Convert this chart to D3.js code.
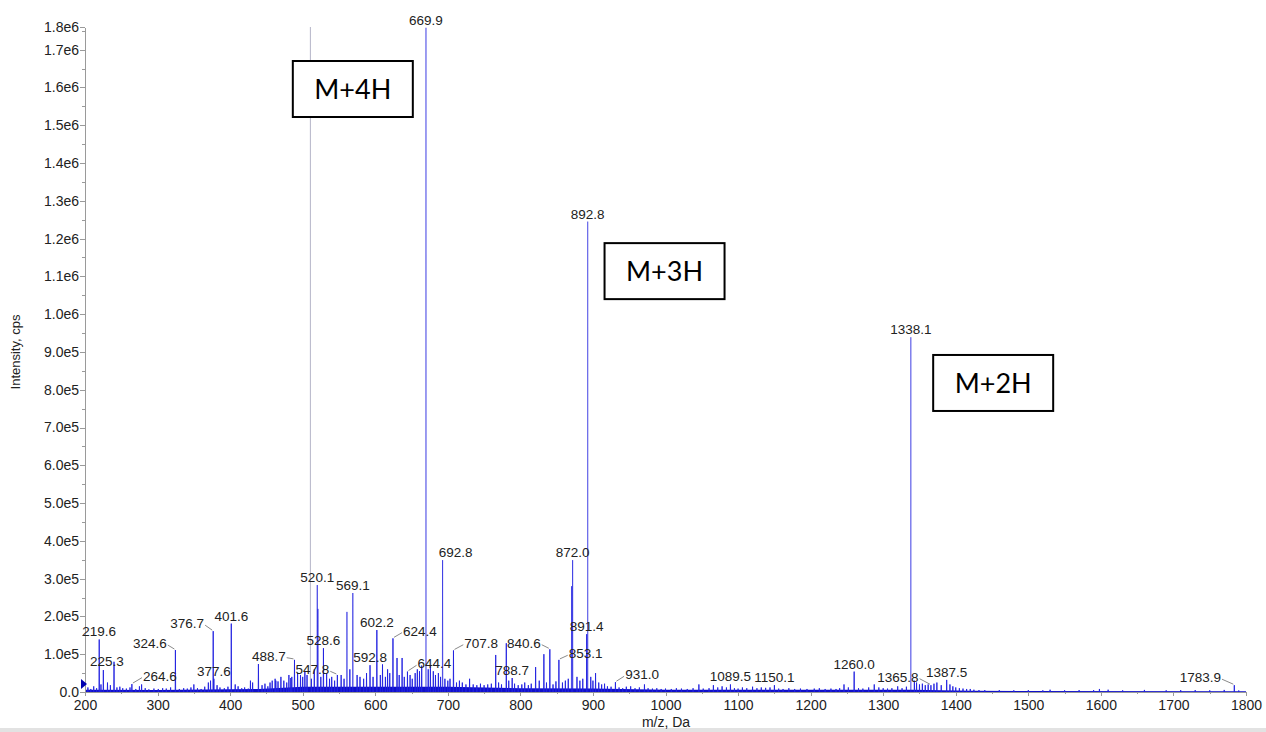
<!DOCTYPE html>
<html lang="en">
<head>
<meta charset="UTF-8">
<title>Spectrum</title>
<style>
  body { margin: 0; background: #fff; }
  svg text { font-family: "Liberation Sans", Arial, sans-serif; fill: #222; }
  .axis path, .axis line { stroke: #9a9a9a; shape-rendering: crispEdges; }
  .axis text { font-size: 14px; }
  .peak { stroke: #2020e0; stroke-width: 1; }
  .plabel { font-size: 13.5px; }
  .leader { stroke: #8a8a8a; stroke-width: 1; fill: none; }
  .box rect { fill: #fff; stroke: #000; stroke-width: 2; }
  .box text { font-family: Lato, "Open Sans", sans-serif; font-size: 27px; fill: #000; }
</style>
</head>
<body>
<svg id="chart" width="1266" height="732"></svg>
<script src="https://cdn.jsdelivr.net/npm/d3@7"></script>
<script>
// labelled / main peaks
const peakMz  = [219.6, 225.3, 240.0, 264.6, 278.0, 324.6, 350.0, 376.7, 377.6, 401.6,
                 431.0, 439.0, 463.0, 483.6, 488.7, 520.1, 521.0, 528.6, 547.8, 561.0,
                 569.1, 592.8, 602.2, 610.0, 624.4, 630.0, 637.0, 644.4, 669.9, 692.8,
                 707.8, 766.0, 780.6, 788.7, 821.0, 832.4, 840.6, 853.1, 870.6, 872.0,
                 891.4, 892.8, 903.6, 931.0, 971.0, 1046.0, 1089.5, 1150.1, 1246.0, 1260.0,
                 1287.7, 1320.0, 1338.1, 1365.8, 1387.5, 1783.9];
const peakInt = [139000, 58000, 80000, 21000, 20000, 111000, 20000, 161000, 35000, 181000,
                 25000, 74000, 30000, 37000, 85000, 283000, 220000, 116000, 45000, 212000,
                 262000, 71000, 164000, 73000, 142000, 90000, 90000, 54000, 1758000, 349000,
                 110000, 98000, 129000, 37000, 66000, 100000, 113000, 85000, 280000, 349000,
                 153000, 1245000, 50000, 26000, 20000, 20000, 20000, 18000, 20000, 54000,
                 20000, 15000, 939000, 18000, 32000, 18000];

// small noise spikes [m/z, cps]
const noisePeaks = [
  [204,12000],[208,8000],[212,15000],[216,10000],[222,20000],[231,25000],[235,18000],[244,12000],
  [248,14000],[252,10000],[257,9000],[262,12000],[270,8000],[275,15000],[283,10000],[288,7000],
  [295,9000],[301,8000],[307,10000],[312,9000],[318,12000],[330,8000],[336,10000],[341,9000],
  [346,12000],[355,10000],[360,8000],[365,14000],[370,25000],[373,30000],[382,18000],[386,12000],
  [392,10000],[397,14000],[407,20000],[411,15000],[416,10000],[420,12000],[425,9000],[428,30000],
  [444,18000],[448,22000],[452,15000],[455,25000],[458,30000],[462,35000],[466,28000],[470,40000],
  [474,30000],[478,25000],[481,45000],[485,40000],[493,50000],[497,45000],[500,40000],[503,55000],
  [506,45000],[512,35000],[516,60000],[525,40000],[533,50000],[537,35000],[540,40000],[544,30000],
  [553,45000],[557,35000],[565,60000],[575,45000],[579,40000],[584,35000],[588,50000],[597,40000],
  [607,45000],[614,40000],[617,60000],[620,50000],[633,45000],[640,40000],[648,45000],[651,35000],
  [655,50000],[658,60000],[661,55000],[664,70000],[673,60000],[676,70000],[680,55000],[683,45000],
  [687,50000],[690,40000],[696,35000],[700,30000],[703,35000],[712,25000],[716,30000],[720,25000],
  [725,20000],[730,35000],[735,20000],[740,18000],[745,22000],[750,18000],[755,20000],[760,22000],
  [770,25000],[774,20000],[784,30000],[792,22000],[797,18000],[802,20000],[806,25000],[811,18000],
  [815,22000],[826,30000],[836,25000],[845,20000],[849,28000],[858,25000],[862,30000],[866,35000],
  [878,40000],[882,30000],[886,35000],[897,40000],[900,30000],[908,25000],[912,20000],[916,22000],
  [920,15000],[925,14000],[936,12000],[941,10000],[946,14000],[952,15000],[958,10000],[964,12000],
  [976,10000],[982,9000],[988,10000],[994,8000],[1000,9000],[1008,8000],[1015,10000],[1022,9000],
  [1030,8000],[1038,10000],[1052,9000],[1060,10000],[1066,18000],[1072,12000],[1078,15000],[1084,12000],
  [1095,10000],[1100,9000],[1106,12000],[1112,10000],[1120,14000],[1126,10000],[1132,12000],[1138,11000],
  [1144,12000],[1156,9000],[1162,8000],[1170,10000],[1178,8000],[1186,9000],[1195,8000],[1205,9000],
  [1212,10000],[1220,8000],[1228,9000],[1235,8000],[1240,10000],[1252,12000],[1266,10000],[1272,9000],
  [1280,12000],[1294,12000],[1300,10000],[1306,9000],[1312,10000],[1326,10000],[1332,14000],[1343,30000],
  [1346,25000],[1350,20000],[1354,22000],[1358,18000],[1362,20000],[1370,22000],[1374,25000],[1380,18000],
  [1392,20000],[1396,15000],[1400,12000],[1405,10000],[1410,9000],[1415,8000],[1420,8000],[1425,6000],
  [1432,5000],[1440,5000],[1460,5000],[1480,4500],[1500,5000],[1520,4500],[1530,6000],
  [1550,4500],[1570,5000],[1590,5000],[1598,8000],[1610,6000],[1630,4500],[1660,5500],
  [1690,4500],[1710,5000],[1730,5000],[1750,4500],[1770,5500],[1790,4000]
];

// baseline level
const baseMz  = [200, 300, 440, 500, 700, 800, 900, 1000, 1340, 1420, 1800];
const baseInt = [6000, 5000, 8000, 14000, 14000, 10000, 9000, 6000, 6000, 3000, 1800];

// peak labels
const labelMz = [219.6, 225.3, 264.6, 324.6, 376.7, 377.6, 401.6, 488.7, 520.1, 528.6,
                 547.8, 569.1, 592.8, 602.2, 624.4, 644.4, 669.9, 692.8, 707.8, 788.7,
                 840.6, 853.1, 872.0, 891.4, 892.8, 931.0, 1089.5, 1150.1, 1260.0, 1338.1,
                 1365.8, 1387.5, 1783.9];
const leaderLabels = [264.6, 324.6, 376.7, 488.7, 547.8, 624.4, 644.4, 707.8, 840.6, 853.1, 931.0, 1365.8, 1783.9];

// charge state boxes
const ionTags = ["M+4H", "M+3H", "M+2H"];
const ionBoxMz = [486.4, 916.0, 1368.9];
const ionBoxInt = [1670000, 1188000, 892000];

const cursorMz = 510.6;

const xTicks = [200, 300, 400, 500, 600, 700, 800, 900, 1000, 1100, 1200, 1300, 1400, 1500, 1600, 1700, 1800];
const yTicks = [0, 1e5, 2e5, 3e5, 4e5, 5e5, 6e5, 7e5, 8e5, 9e5, 1e6, 1.1e6, 1.2e6, 1.3e6, 1.4e6, 1.5e6, 1.6e6, 1.7e6];
const yTop = 1.76e6;

// label text offsets from the peak apex (px)
const labelShift = {
  "225.3": [3.6, -9], "692.8": [13, -8],
  "264.6": [28, -8.4], "324.6": [-25.5, -7], "376.7": [-26, -8], "488.7": [-25.7, -4.2],
  "547.8": [-25, -5.7], "624.4": [27, -7.7], "644.4": [27, -8.3], "707.8": [27.7, -7.7],
  "840.6": [-26, -6.6], "853.1": [26.7, -6.6], "931.0": [26.6, -7.9], "1365.8": [-33, -8.5],
  "1783.9": [-34, -8]
};

const svg = d3.select("#chart");
const x = d3.scaleLinear().domain([200, 1800]).range([85, 1246]);
const y = d3.scaleLinear().domain([0, yTop]).range([692, 27]);

// bottom strip
svg.append("rect").attr("x", 0).attr("y", 728).attr("width", 1266).attr("height", 4).attr("fill", "#e2e2e2");

// cursor line
svg.append("line")
  .attr("x1", x(cursorMz)).attr("x2", x(cursorMz))
  .attr("y1", y(0)).attr("y2", y(yTop))
  .attr("stroke", "#b4b4c8").attr("stroke-width", 1);

// baseline band
const area = d3.area().x(d => x(d[0])).y0(y(0)).y1(d => y(d[1]));
svg.append("path")
  .datum(baseMz.map((m, i) => [m, baseInt[i]]))
  .attr("d", area).attr("fill", "#1010c8");

// sticks
const allPeaks = noisePeaks.concat(peakMz.map((m, i) => [m, peakInt[i]]));
const stick = d3.line().x(d => x(d[0])).y(d => y(d[1]));
svg.append("g").selectAll("path").data(allPeaks).join("path")
  .attr("class", "peak")
  .attr("fill", "none")
  .attr("stroke-opacity", d => d[1] > 500000 ? 0.5 : d[1] > 200000 ? 0.65 : 0.9)
  .attr("d", d => stick([[d[0] - 0.3, 0], [d[0], d[1]], [d[0] + 0.3, 0]]));

// axes
const fmt = v => v === 0 ? "0.0" : d3.format(".1e")(v).replace("+", "");
svg.append("g").attr("class", "axis").attr("transform", "translate(85,0)")
  .call(d3.axisLeft(y).tickValues(yTicks.concat([yTop])).tickFormat(fmt).tickSize(5).tickPadding(1).tickSizeOuter(0));
svg.append("g").attr("class", "axis").attr("transform", "translate(85,0)")
  .call(d3.axisLeft(y).tickValues(d3.range(5e4, yTop, 1e5)).tickFormat("").tickSize(3).tickSizeOuter(0))
  .select(".domain").remove();
svg.append("g").attr("class", "axis").attr("transform", "translate(0,692)")
  .call(d3.axisBottom(x).tickValues(xTicks).tickFormat(d3.format("d")).tickSize(4).tickPadding(4).tickSizeOuter(0));
svg.append("g").attr("class", "axis").attr("transform", "translate(0,692)")
  .call(d3.axisBottom(x).tickValues(d3.range(250, 1800, 100)).tickFormat("").tickSize(2).tickSizeOuter(0))
  .select(".domain").remove();

svg.append("text").attr("x", 666).attr("y", 727).attr("text-anchor", "middle")
  .style("font-size", "14px").text("m/z, Da");
svg.append("text").attr("transform", "translate(20,352) rotate(-90)").attr("text-anchor", "middle")
  .style("font-size", "13px").text("Intensity, cps");

// zero marker
svg.append("path")
  .attr("d", `M${x(200) - 4},${y(0) - 13} L${x(200) + 2},${y(0) - 8} L${x(200) - 4},${y(0) - 3} Z`)
  .attr("fill", "#0000b0");

// peak labels
const labG = svg.append("g");
labelMz.forEach(m => {
  const key = m.toFixed(1);
  const i = peakMz.indexOf(m);
  const px = x(m), py = y(peakInt[i]);
  const sh = labelShift[key] || [0, -8];
  const cx = px + sh[0], cy = py + sh[1];
  const t = labG.append("text").attr("class", "plabel")
    .attr("x", cx).attr("y", cy + 5).attr("text-anchor", "middle").text(key);
  if (leaderLabels.includes(m)) {
    const w = t.node().getComputedTextLength();
    const edge = sh[0] < 0 ? cx + w / 2 + 1 : cx - w / 2 - 1;
    labG.append("line").attr("class", "leader")
      .attr("x1", edge).attr("y1", cy + 2)
      .attr("x2", px + (sh[0] < 0 ? -1 : 1)).attr("y2", py - 1);
  }
});

// charge state boxes
const boxG = svg.append("g").attr("class", "box");
ionTags.forEach((tag, i) => {
  const bx = x(ionBoxMz[i]), by = y(ionBoxInt[i]);
  boxG.append("rect").attr("x", bx).attr("y", by).attr("width", 120).attr("height", 56);
  boxG.append("text").attr("x", bx + 60).attr("y", by + 38).attr("text-anchor", "middle").text(tag);
});
</script>
</body>
</html>
